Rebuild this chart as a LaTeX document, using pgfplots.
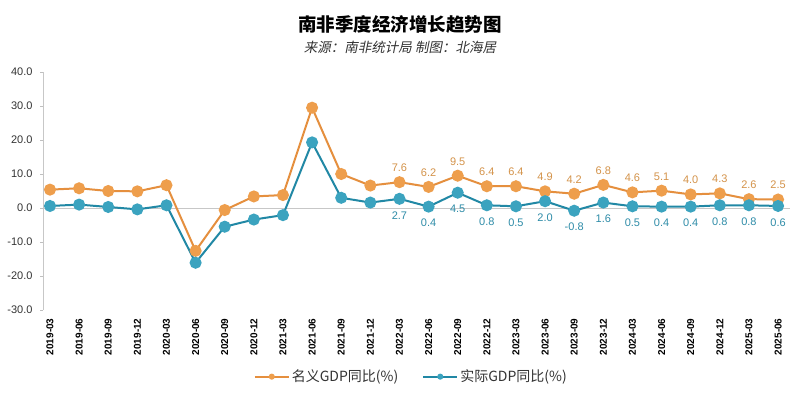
\documentclass[border=0pt]{standalone}
\usepackage{pgfplots}
\pgfplotsset{compat=1.18}
\usepackage{fontspec}
\setmainfont{Liberation Sans}
\newfontfamily\cjk{Noto Sans CJK SC}
\newfontfamily\cjksl[FakeSlant=0.2]{Noto Sans CJK SC}
\definecolor{orl}{HTML}{E58F3E}
\definecolor{orm}{HTML}{EE9E4C}
\definecolor{ort}{HTML}{D4934A}
\definecolor{bll}{HTML}{2188A5}
\definecolor{blm}{HTML}{3BA3BF}
\definecolor{blt}{HTML}{2E8CA8}
\definecolor{txt}{HTML}{333333}
\begin{document}
\begin{tikzpicture}[x=1pt,y=1pt]
\useasboundingbox[fill=white] (0,0) rectangle (800,399);
\node[font=\cjk\bfseries\fontsize{18.5}{20}\selectfont, text=black] at (400,375) {南非季度经济增长趋势图};
\node[font=\cjksl\fontsize{13.5}{15}\selectfont, text=txt] at (400,352) {来源：南非统计局 制图：北海居};
\begin{axis}[
  at={(43pt,89pt)}, anchor=south west,
  scale only axis, width=747pt, height=238pt,
  xmin=-0.24, xmax=25.41, ymin=-30, ymax=40,
  axis y line*=left, axis x line*=bottom,
  x axis line style={draw=none},
  y axis line style={draw=black!22, line width=0.8pt},
  ytick={-30,-20,...,40},
  /pgf/number format/assume math mode=true,
  yticklabel={\pgfmathprintnumber[fixed,fixed zerofill,precision=1]{\tick}},
  yticklabel style={font=\fontsize{11}{12}\selectfont, text=txt, xshift=-4pt},
  ytick style={draw=black!25, line width=0.8pt},
  tick align=outside, major tick length=3pt,
  xtick={0,...,25},
  xtick style={draw=none},
  xticklabels={2019-03,2019-06,2019-09,2019-12,2020-03,2020-06,2020-09,2020-12,2021-03,2021-06,2021-09,2021-12,2022-03,2022-06,2022-09,2022-12,2023-03,2023-06,2023-09,2023-12,2024-03,2024-06,2024-09,2024-12,2025-03,2025-06},
  xticklabel style={rotate=90, anchor=east, font=\bfseries\fontsize{10}{12}\selectfont, text=black, yshift=0pt, xshift=-2pt},
  extra y ticks={0}, extra y tick labels={},
  extra y tick style={grid=major, major grid style={draw=black!22, line width=0.8pt}, tick style={draw=none}},
  legend columns=2,
  legend style={draw=none, fill=none, at={(0.493,-0.28)}, anchor=center,
    font=\cjk\fontsize{14}{16}\selectfont, text=txt,
    /tikz/every even column/.append style={column sep=22pt}},
  legend image code/.code={\draw[mark repeat=2,mark phase=2,#1] plot coordinates {(0pt,0pt)(17pt,0pt)(34pt,0pt)};},
  legend image post style={mark size=2pt},
  clip=false,
]
\addplot[orl, line width=2pt, mark=*, mark size=5pt, mark options={fill=orm, draw=orm}] coordinates {
(0,5.4)(1,5.8)(2,5.0)(3,4.9)(4,6.7)(5,-12.6)(6,-0.6)(7,3.4)(8,3.8)(9,29.5)(10,10.0)(11,6.6)
(12,7.6)(13,6.2)(14,9.5)(15,6.4)(16,6.4)(17,4.9)(18,4.2)(19,6.8)(20,4.6)(21,5.1)(22,4.0)(23,4.3)(24,2.6)(25,2.5)};
\addlegendentry{名义GDP同比(\%)}
\addplot[bll, line width=2pt, mark=*, mark size=5pt, mark options={fill=blm, draw=blm}] coordinates {
(0,0.6)(1,1.0)(2,0.3)(3,-0.4)(4,0.8)(5,-16.1)(6,-5.5)(7,-3.4)(8,-2.1)(9,19.3)(10,3.0)(11,1.6)
(12,2.7)(13,0.4)(14,4.5)(15,0.8)(16,0.5)(17,2.0)(18,-0.8)(19,1.6)(20,0.5)(21,0.4)(22,0.4)(23,0.8)(24,0.8)(25,0.6)};
\addlegendentry{实际GDP同比(\%)}
\addplot[draw=none, forget plot, nodes near coords={\pgfmathprintnumber[fixed,fixed zerofill,precision=1]{\pgfplotspointmeta}},
  nodes near coords style={anchor=south, yshift=7pt, text=ort, font=\fontsize{11}{12}\selectfont}] coordinates {
(12,7.6)(13,6.2)(14,9.5)(15,6.4)(16,6.4)(17,4.9)(18,4.2)(19,6.8)(20,4.6)(21,5.1)(22,4.0)(23,4.3)(24,2.6)(25,2.5)};
\addplot[draw=none, forget plot, nodes near coords={\pgfmathprintnumber[fixed,fixed zerofill,precision=1]{\pgfplotspointmeta}},
  nodes near coords style={anchor=north, yshift=-9pt, text=blt, font=\fontsize{11}{12}\selectfont}] coordinates {
(12,2.7)(13,0.4)(14,4.5)(15,0.8)(16,0.5)(17,2.0)(18,-0.8)(19,1.6)(20,0.5)(21,0.4)(22,0.4)(23,0.8)(24,0.8)(25,0.6)};
\end{axis}
\end{tikzpicture}
\end{document}
